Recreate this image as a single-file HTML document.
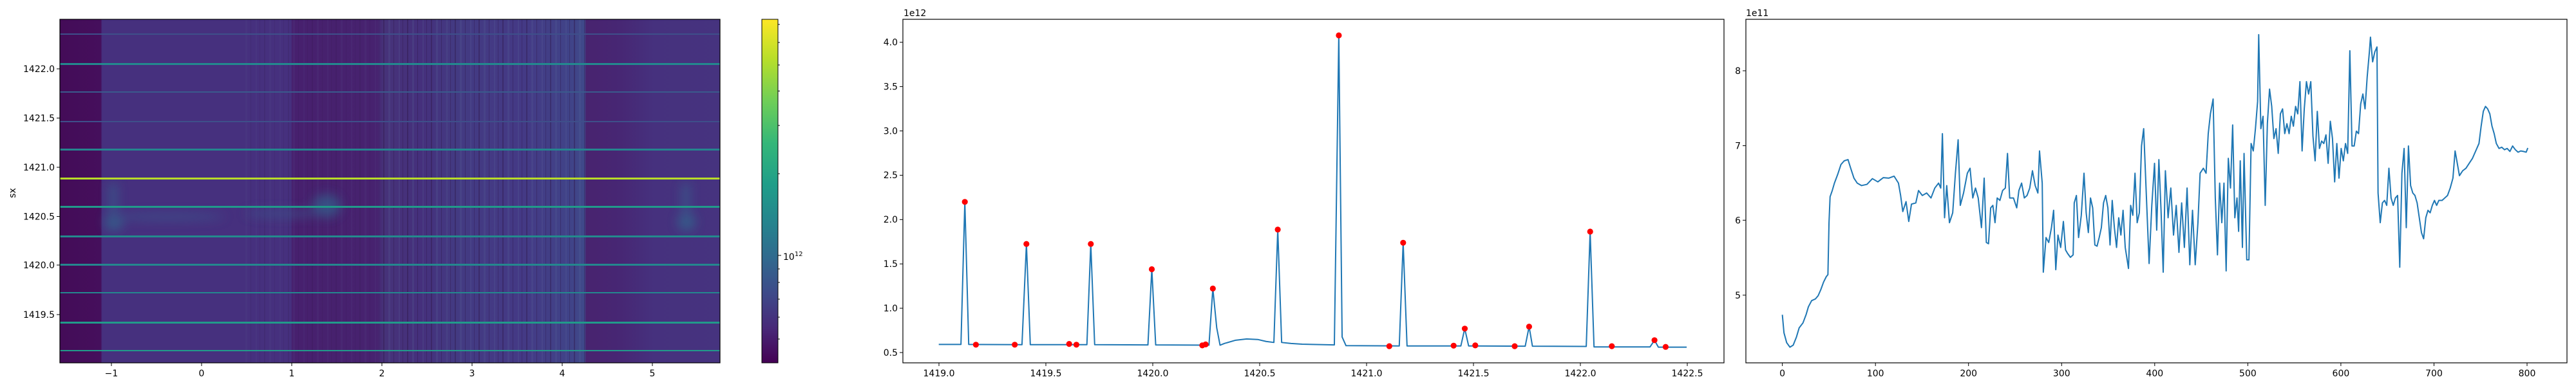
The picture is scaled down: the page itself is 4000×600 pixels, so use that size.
<!DOCTYPE html>
<html><head><meta charset="utf-8"><style>
html,body{margin:0;padding:0;background:#fff;}
svg{display:block;font-family:"DejaVu Sans","Liberation Sans",sans-serif;}
text{font-size:14px;fill:#000;}
</style></head><body>
<svg width="4000" height="600" viewBox="0 0 4000 600" xmlns="http://www.w3.org/2000/svg">
<defs>
<linearGradient id="bg" x1="93" x2="1118" y1="0" y2="0" gradientUnits="userSpaceOnUse">
<stop offset="0" stop-color="#440c58"/><stop offset="0.062" stop-color="#450f5c"/>
<stop offset="0.064" stop-color="#46307e"/><stop offset="0.35" stop-color="#46307e"/>
<stop offset="0.352" stop-color="#47206e"/><stop offset="0.48" stop-color="#47226f"/>
<stop offset="0.49" stop-color="#463279"/><stop offset="0.55" stop-color="#45307c"/>
<stop offset="0.6" stop-color="#433a82"/><stop offset="0.7" stop-color="#443985"/>
<stop offset="0.78" stop-color="#404488"/><stop offset="0.795" stop-color="#3f4a8a"/>
<stop offset="0.797" stop-color="#48236f"/><stop offset="0.85" stop-color="#472774"/>
<stop offset="0.9" stop-color="#46317e"/><stop offset="1" stop-color="#46337f"/>
</linearGradient>
<linearGradient id="cb" x1="0" x2="0" y1="0" y2="1">
<stop offset="0" stop-color="#fde725"/><stop offset="0.12" stop-color="#b5de2b"/>
<stop offset="0.24" stop-color="#6ece58"/><stop offset="0.36" stop-color="#35b779"/>
<stop offset="0.48" stop-color="#1f9e89"/><stop offset="0.6" stop-color="#26828e"/>
<stop offset="0.7" stop-color="#31688e"/><stop offset="0.8" stop-color="#3e4989"/>
<stop offset="0.9" stop-color="#482878"/><stop offset="1" stop-color="#440154"/>
</linearGradient>
<pattern id="stripes" x="0" y="0" width="37" height="10" patternUnits="userSpaceOnUse">
<rect x="3" width="2" height="10" fill="#2a1040" opacity="0.35"/>
<rect x="11" width="3" height="10" fill="#5a6a9a" opacity="0.2"/>
<rect x="19" width="1" height="10" fill="#2a1040" opacity="0.35"/>
<rect x="27" width="2" height="10" fill="#5a6a9a" opacity="0.2"/>
<rect x="33" width="1" height="10" fill="#2a1040" opacity="0.3"/>
</pattern>
<filter id="bl"><feGaussianBlur stdDeviation="8"/></filter>
</defs>

<!-- Panel 1 heatmap -->
<rect x="93" y="30" width="1025" height="534" fill="url(#bg)"/>
<rect x="590" y="30" width="320" height="534" fill="url(#stripes)"/>
<rect x="380" y="30" width="210" height="534" fill="url(#stripes)" opacity="0.4"/>
<g filter="url(#bl)" opacity="0.7">
<ellipse cx="177" cy="345" rx="14" ry="14" fill="#2f6c8e"/>
<rect x="170" y="285" width="12" height="60" fill="#34608d"/>
<ellipse cx="260" cy="337" rx="90" ry="6" fill="#3b528b"/>
<ellipse cx="507" cy="320" rx="22" ry="18" fill="#33638d"/>
<ellipse cx="440" cy="332" rx="60" ry="6" fill="#3b528b"/>
<ellipse cx="1066" cy="345" rx="14" ry="14" fill="#2f6c8e"/>
<rect x="1059" y="285" width="12" height="60" fill="#34608d"/>
</g>
<g>
<rect x="93" y="52" width="1025" height="2" fill="#3e4f8a"/>
<rect x="93" y="98" width="1025" height="3" fill="#23898e"/>
<rect x="93" y="142" width="1025" height="2" fill="#3a5a8c"/>
<rect x="93" y="188" width="1025" height="2" fill="#3e4f8a"/>
<rect x="93" y="231" width="1025" height="3" fill="#25858e"/>
<rect x="93" y="276" width="1025" height="3" fill="#b8dc28"/>
<rect x="93" y="320" width="1025" height="3" fill="#219a8a"/>
<rect x="93" y="366" width="1025" height="3" fill="#238a8d"/>
<rect x="93" y="410" width="1025" height="3" fill="#24878e"/>
<rect x="93" y="454" width="1025" height="2" fill="#24878e"/>
<rect x="93" y="500" width="1025" height="3" fill="#219a8a"/>
<rect x="93" y="544" width="1025" height="2" fill="#219a8a"/>
</g>
<rect x="93" y="30" width="1025" height="534" fill="none" stroke="#000" stroke-width="1.2"/>
<g stroke="#000" stroke-width="1">
<line x1="88" x2="93" y1="107" y2="107"/><line x1="88" x2="93" y1="183.5" y2="183.5"/>
<line x1="88" x2="93" y1="260" y2="260"/><line x1="88" x2="93" y1="336.5" y2="336.5"/>
<line x1="88" x2="93" y1="412" y2="412"/><line x1="88" x2="93" y1="489" y2="489"/>
<line x1="173" x2="173" y1="564" y2="569"/><line x1="313" x2="313" y1="564" y2="569"/>
<line x1="453" x2="453" y1="564" y2="569"/><line x1="593" x2="593" y1="564" y2="569"/>
<line x1="733" x2="733" y1="564" y2="569"/><line x1="873" x2="873" y1="564" y2="569"/>
<line x1="1013" x2="1013" y1="564" y2="569"/>
</g>
<g text-anchor="end">
<text x="85" y="112">1422.0</text><text x="85" y="188.5">1421.5</text>
<text x="85" y="265">1421.0</text><text x="85" y="341.5">1420.5</text>
<text x="85" y="417">1420.0</text><text x="85" y="494">1419.5</text>
</g>
<g text-anchor="middle">
<text x="173" y="585">−1</text><text x="313" y="585">0</text><text x="453" y="585">1</text>
<text x="593" y="585">2</text><text x="733" y="585">3</text><text x="873" y="585">4</text><text x="1013" y="585">5</text>
</g>
<text x="0" y="0" transform="translate(24,300) rotate(-90)" text-anchor="middle">sx</text>

<!-- colorbar -->
<rect x="1183" y="30" width="25" height="534" fill="url(#cb)" stroke="#000" stroke-width="1"/>
<g stroke="#000" stroke-width="1">
<line x1="1208" x2="1213" y1="397" y2="397"/>
<line x1="1208" x2="1211" y1="38" y2="38"/><line x1="1208" x2="1211" y1="66" y2="66"/>
<line x1="1208" x2="1211" y1="101" y2="101"/><line x1="1208" x2="1211" y1="141.5" y2="141.5"/>
<line x1="1208" x2="1211" y1="195" y2="195"/><line x1="1208" x2="1211" y1="270" y2="270"/>
<line x1="1208" x2="1211" y1="418" y2="418"/><line x1="1208" x2="1211" y1="439" y2="439"/>
<line x1="1208" x2="1211" y1="465" y2="465"/><line x1="1208" x2="1211" y1="493" y2="493"/>
<line x1="1208" x2="1211" y1="527" y2="527"/>
</g>
<text x="1216" y="404">10<tspan dy="-6" font-size="10">12</tspan></text>

<!-- Panel 2 -->
<rect x="1402" y="30" width="1275" height="534" fill="none" stroke="#000" stroke-width="1.2"/>
<text x="1403" y="25" font-size="13">1e12</text>
<g stroke="#000" stroke-width="1">
<line x1="1397" x2="1402" y1="548" y2="548"/><line x1="1397" x2="1402" y1="479.1" y2="479.1"/>
<line x1="1397" x2="1402" y1="410.2" y2="410.2"/><line x1="1397" x2="1402" y1="341.3" y2="341.3"/>
<line x1="1397" x2="1402" y1="272.4" y2="272.4"/><line x1="1397" x2="1402" y1="203.5" y2="203.5"/>
<line x1="1397" x2="1402" y1="134.6" y2="134.6"/><line x1="1397" x2="1402" y1="65.7" y2="65.7"/>
<line x1="1458" x2="1458" y1="564" y2="569"/><line x1="1624" x2="1624" y1="564" y2="569"/>
<line x1="1790" x2="1790" y1="564" y2="569"/><line x1="1956" x2="1956" y1="564" y2="569"/>
<line x1="2122" x2="2122" y1="564" y2="569"/><line x1="2288" x2="2288" y1="564" y2="569"/>
<line x1="2454" x2="2454" y1="564" y2="569"/><line x1="2620" x2="2620" y1="564" y2="569"/>
</g>
<g text-anchor="end">
<text x="1394" y="553">0.5</text><text x="1394" y="484">1.0</text><text x="1394" y="415">1.5</text>
<text x="1394" y="346">2.0</text><text x="1394" y="277">2.5</text><text x="1394" y="208.5">3.0</text>
<text x="1394" y="139.6">3.5</text><text x="1394" y="70.7">4.0</text>
</g>
<g text-anchor="middle">
<text x="1458" y="585">1419.0</text><text x="1624" y="585">1419.5</text><text x="1790" y="585">1420.0</text>
<text x="1956" y="585">1420.5</text><text x="2122" y="585">1421.0</text><text x="2288" y="585">1421.5</text>
<text x="2454" y="585">1422.0</text><text x="2620" y="585">1422.5</text>
</g>
<g transform="translate(1350,0) scale(0.86155,0.384615)">
<polyline fill="none" stroke="#1f77b4" stroke-width="2" vector-effect="non-scaling-stroke" stroke-linejoin="round"
points="125,1392 165,1392 172,816 179,1392 275,1393 283,986 290,1393 392,1393 399,986 406,1393 502,1394 509,1088 516,1394 612,1395 619,1166 626,1325 632,1395 640,1388 660,1375 680,1370 700,1372 715,1380 729,1384 736,928 743,1384 760,1388 780,1391 838,1394 846,143 852,1362 859,1397 955,1398 962,981 969,1398 1066,1398 1073,1328 1080,1398 1182,1399 1189,1320 1195,1399 1292,1400 1299,936 1306,1402 1407,1402 1415,1375 1422,1403 1473,1403"/>
</g>
<g fill="#ff0000">
<circle cx="1498.2" cy="313.8" r="4.6"/><circle cx="1515.4" cy="535.8" r="4.6"/>
<circle cx="1575.7" cy="535.8" r="4.6"/><circle cx="1593.8" cy="379.2" r="4.6"/>
<circle cx="1660.2" cy="534.6" r="4.6"/><circle cx="1671.4" cy="535.8" r="4.6"/>
<circle cx="1693.8" cy="379.2" r="4.6"/><circle cx="1788.5" cy="418.5" r="4.6"/>
<circle cx="1866.9" cy="536.9" r="4.6"/><circle cx="1872.1" cy="535.4" r="4.6"/>
<circle cx="1883.3" cy="448.5" r="4.6"/><circle cx="1984.1" cy="356.9" r="4.6"/>
<circle cx="2078.9" cy="55" r="4.6"/><circle cx="2157.3" cy="538.1" r="4.6"/>
<circle cx="2178.8" cy="377.3" r="4.6"/><circle cx="2257.2" cy="537.3" r="4.6"/>
<circle cx="2274.5" cy="510.8" r="4.6"/><circle cx="2290.8" cy="536.9" r="4.6"/>
<circle cx="2352" cy="538.1" r="4.6"/><circle cx="2374.4" cy="507.7" r="4.6"/>
<circle cx="2469.2" cy="360" r="4.6"/><circle cx="2502.8" cy="538.1" r="4.6"/>
<circle cx="2569.1" cy="528.8" r="4.6"/><circle cx="2586.4" cy="539.2" r="4.6"/>
</g>

<!-- Panel 3 -->
<rect x="2711" y="30" width="1275" height="534" fill="none" stroke="#000" stroke-width="1.2"/>
<text x="2711" y="25" font-size="13">1e11</text>
<g stroke="#000" stroke-width="1">
<line x1="2706" x2="2711" y1="110" y2="110"/><line x1="2706" x2="2711" y1="226.5" y2="226.5"/>
<line x1="2706" x2="2711" y1="342.3" y2="342.3"/><line x1="2706" x2="2711" y1="458.8" y2="458.8"/>
<line x1="2767.6" x2="2767.6" y1="564" y2="569"/><line x1="2912.2" x2="2912.2" y1="564" y2="569"/>
<line x1="3056.7" x2="3056.7" y1="564" y2="569"/><line x1="3201.3" x2="3201.3" y1="564" y2="569"/>
<line x1="3345.8" x2="3345.8" y1="564" y2="569"/><line x1="3490.4" x2="3490.4" y1="564" y2="569"/>
<line x1="3634.9" x2="3634.9" y1="564" y2="569"/><line x1="3779.5" x2="3779.5" y1="564" y2="569"/>
<line x1="3924" x2="3924" y1="564" y2="569"/>
</g>
<g text-anchor="end">
<text x="2703" y="115">8</text><text x="2703" y="231.5">7</text>
<text x="2703" y="347.3">6</text><text x="2703" y="463.8">5</text>
</g>
<g text-anchor="middle">
<text x="2767.6" y="585">0</text><text x="2912.2" y="585">100</text><text x="3056.7" y="585">200</text>
<text x="3201.3" y="585">300</text><text x="3345.8" y="585">400</text><text x="3490.4" y="585">500</text>
<text x="3634.9" y="585">600</text><text x="3779.5" y="585">700</text><text x="3924" y="585">800</text>
</g>
<g transform="translate(2680,0) scale(0.84246,0.384615)">
<polyline fill="none" stroke="#1f77b4" stroke-width="2" vector-effect="non-scaling-stroke" stroke-linejoin="round"
points="104,1272 107,1345 112,1385 118,1403 124,1395 130,1362 135,1325 142,1305 148,1270 152,1240 158,1215 165,1208 170,1195 175,1170 180,1140 185,1118 188,1110 190,900 192,795 196,770 200,740 206,705 212,665 218,650 225,645 230,680 236,720 242,740 250,750 260,745 270,722 280,735 290,718 300,720 310,712 318,740 322,790 326,855 332,815 337,895 342,825 350,820 355,770 362,790 370,780 378,800 385,760 392,740 396,760 399,540 403,880 407,750 412,900 418,860 423,700 428,565 432,830 438,780 445,700 450,680 455,800 460,760 465,800 471,920 476,720 480,980 484,985 488,840 492,830 496,900 500,800 505,810 510,770 515,760 519,620 523,800 530,800 536,840 540,770 545,740 550,800 555,790 560,760 565,690 570,750 575,780 578,610 583,740 585,1100 590,960 595,980 600,920 604,850 608,1090 612,950 617,1000 622,895 626,1010 630,1025 635,1040 640,1030 642,820 646,790 650,960 655,870 660,700 664,860 668,940 672,800 676,840 680,990 684,995 688,960 692,920 696,820 700,790 704,840 708,990 712,810 716,920 720,1000 724,880 728,950 732,850 736,1000 742,1085 746,830 750,870 754,700 758,900 762,860 766,590 770,520 774,740 780,1065 785,830 790,660 794,930 798,645 802,850 806,1100 810,690 815,880 820,760 825,950 830,830 835,1020 840,820 845,1000 850,760 855,1070 860,850 865,1070 870,900 874,700 880,680 885,700 889,540 893,460 898,400 902,800 906,1030 910,740 914,900 918,740 922,1095 926,640 930,760 934,505 938,880 942,800 945,935 948,650 952,1000 955,620 960,1050 964,1050 968,580 972,610 976,520 980,410 982,140 986,520 990,470 994,830 998,500 1002,360 1006,430 1010,560 1014,520 1018,620 1022,460 1026,440 1030,540 1034,500 1038,540 1042,470 1046,510 1050,430 1054,460 1058,330 1062,610 1066,440 1070,330 1074,380 1078,330 1082,550 1086,650 1090,450 1094,600 1098,570 1102,580 1106,545 1110,660 1114,490 1118,560 1122,735 1126,580 1130,720 1134,600 1138,650 1142,580 1146,620 1150,205 1154,590 1158,590 1162,530 1166,540 1170,420 1174,380 1178,440 1182,310 1186,210 1188,150 1192,250 1196,210 1200,190 1202,780 1206,900 1210,820 1214,810 1218,830 1222,680 1226,800 1230,830 1234,800 1238,790 1242,1080 1246,700 1250,600 1254,920 1258,590 1262,750 1266,780 1270,790 1274,820 1278,880 1282,940 1286,965 1290,880 1294,850 1298,860 1302,830 1306,810 1310,830 1314,810 1320,810 1325,800 1330,790 1335,760 1340,720 1344,610 1348,660 1352,710 1358,690 1364,680 1370,660 1376,640 1382,610 1388,580 1392,510 1396,450 1400,430 1404,440 1408,460 1412,510 1416,540 1420,580 1425,600 1430,595 1435,605 1440,600 1445,612 1450,590 1455,605 1460,615 1465,610 1470,612 1475,615 1478,598"/>
</g>
</svg>
</body></html>
